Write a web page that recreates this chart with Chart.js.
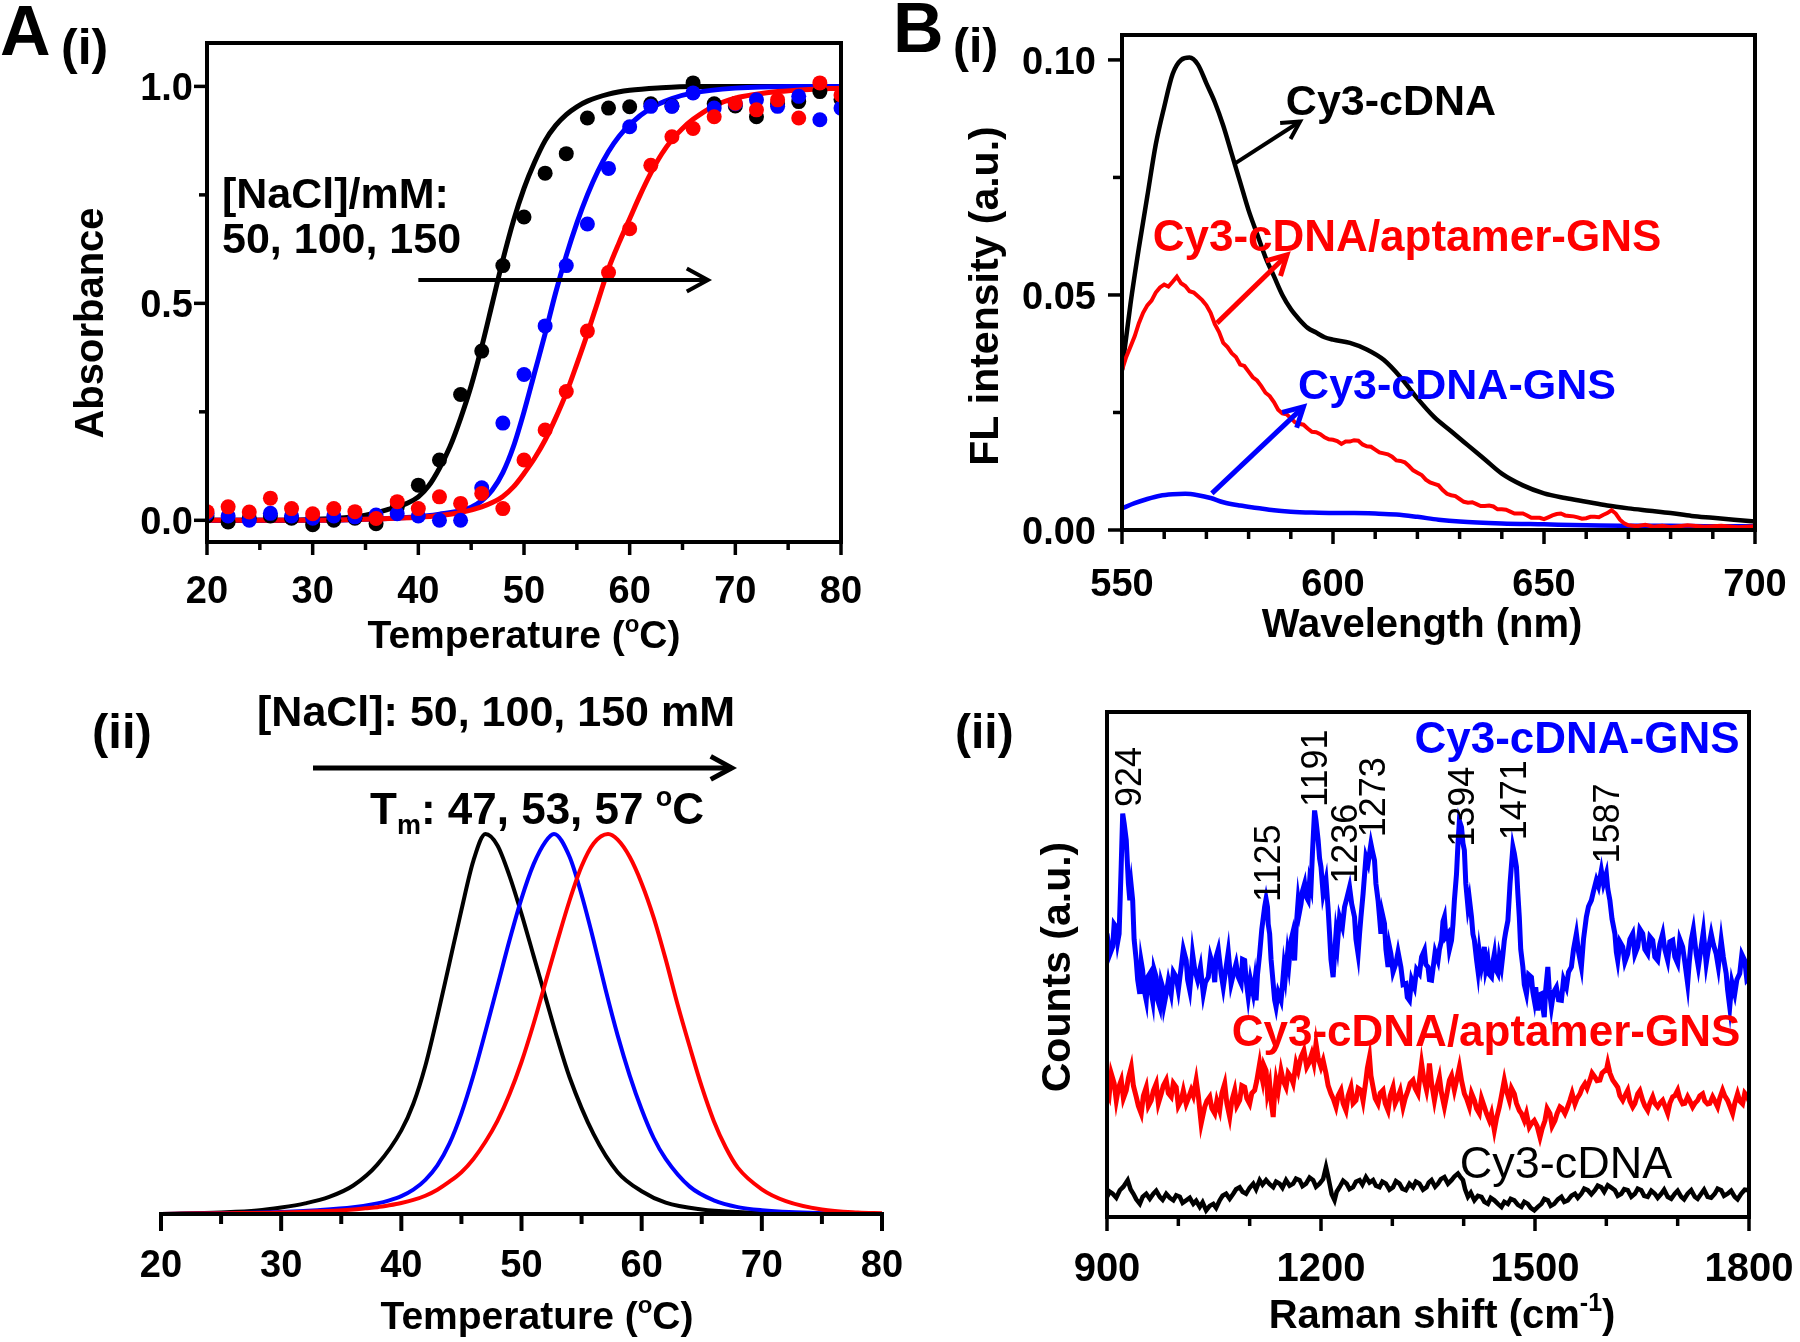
<!DOCTYPE html>
<html>
<head>
<meta charset="utf-8">
<script src="https://cdn.jsdelivr.net/npm/chart.js@4.4.1/dist/chart.umd.min.js"></script>
<style>
  body { margin: 0; background: #fff; }
  #page { position: relative; width: 1800px; height: 1342px; overflow: hidden; background: #fff; }
  canvas { position: absolute; }
</style>
</head>
<body>
<div id="page">
  <canvas id="meltCurve" width="900" height="670" style="left:0;top:0"></canvas>
  <canvas id="meltDeriv" width="940" height="672" style="left:0;top:670px"></canvas>
  <canvas id="flSpectra" width="930" height="670" style="left:870px;top:0"></canvas>
  <canvas id="ramanSpectra" width="930" height="672" style="left:870px;top:670px"></canvas>
</div>
<script>
// ---- A(i) melting curves: absorbance vs temperature ----
const meltTemps = [20,22,24,26,28,30,32,34,36,38,40,42,44,46,48,50,52,54,56,58,60,62,64,66,68,70,72,74,76,78,80];
const melt50 = [0.01,-0.004,0.005,0.01,0.005,-0.01,0.0,0.005,-0.008,0.03,0.081,0.139,0.29,0.39,0.587,0.699,0.80,0.845,0.927,0.95,0.953,0.96,0.955,1.008,0.96,0.955,0.93,0.96,0.965,0.988,0.97];
const melt100 = [0.016,0.01,0.0,0.016,0.01,0.005,0.01,0.008,0.012,0.015,0.01,0.0,0.0,0.075,0.224,0.336,0.448,0.587,0.683,0.811,0.907,0.954,0.954,0.985,0.95,0.96,0.969,0.954,0.977,0.923,0.95];
const melt150 = [0.02,0.031,0.019,0.051,0.027,0.015,0.027,0.02,0.004,0.043,0.027,0.054,0.039,0.062,0.027,0.139,0.208,0.297,0.436,0.571,0.672,0.818,0.884,0.903,0.93,0.961,0.946,0.969,0.927,1.008,0.98];

const fitT50 = [20,25,30,33,35,37,39,40,41,42,43,44,45,46,47,48,49,50,51,52,53,54,55,56,58,60,63,66,70,80];
const fit50 = [0,0,0.002,0.006,0.012,0.024,0.04,0.054,0.08,0.12,0.17,0.235,0.31,0.4,0.5,0.6,0.69,0.765,0.825,0.875,0.91,0.935,0.953,0.966,0.982,0.991,0.997,1.0,1.0,1.0];
const fitT100 = [20,30,36,40,42,44,45,46,47,48,49,50,51,52,53,54,55,56,57,58,59,60,62,64,66,70,75,80];
const fit100 = [0,0,0.003,0.008,0.014,0.022,0.03,0.045,0.07,0.11,0.17,0.25,0.34,0.43,0.525,0.61,0.685,0.75,0.805,0.85,0.885,0.912,0.95,0.972,0.985,0.996,1.0,1.0];
const fitT150 = [20,30,36,40,42,44,46,47,48,49,50,51,52,53,54,55,56,57,58,59,60,61,62,63,64,65,66,68,70,72,74,77,80];
const fit150 = [0,0,0.003,0.007,0.011,0.018,0.031,0.041,0.055,0.077,0.108,0.143,0.185,0.236,0.293,0.36,0.43,0.505,0.58,0.64,0.695,0.75,0.8,0.843,0.877,0.903,0.924,0.955,0.973,0.982,0.988,0.993,0.996];

// ---- A(ii) first derivative peaks ----
const dT50 = [20,25,28,30,32,34,36,38,40,41,42,43,44,45,46,47,48,49,50,51,52,53,54,56,58,60,62,65,68,72,76,80];
const deriv50 = [0,0.004,0.009,0.017,0.028,0.045,0.075,0.13,0.22,0.29,0.39,0.52,0.66,0.8,0.93,1.0,0.97,0.89,0.79,0.68,0.57,0.46,0.36,0.21,0.11,0.06,0.03,0.012,0.005,0.001,0,0];
const dT100 = [20,25,30,33,36,38,39,40,41,42,43,44,45,46,47,48,49,50,51,52,52.7,54,55,56,57,58,59,60,61,62,64,66,68,70,74,78,80];
const deriv100 = [0,0.002,0.005,0.01,0.018,0.028,0.036,0.047,0.064,0.09,0.128,0.185,0.265,0.365,0.48,0.6,0.72,0.83,0.92,0.98,1.0,0.94,0.84,0.72,0.59,0.47,0.365,0.275,0.2,0.145,0.072,0.036,0.018,0.01,0.003,0.001,0];
const dT150 = [20,25,30,33,36,37,38,39,40,41,42,43,44,45,46,47,48,49,50,51,52,53,54,55,56,57.2,58,59,60,61,62,63,64,65,66,67,68,70,72,75,78,80];
const deriv150 = [0,0.002,0.004,0.007,0.012,0.015,0.018,0.023,0.029,0.037,0.048,0.064,0.085,0.11,0.145,0.19,0.245,0.315,0.4,0.5,0.61,0.72,0.825,0.915,0.975,1.0,0.985,0.94,0.87,0.78,0.67,0.55,0.44,0.335,0.245,0.175,0.122,0.065,0.034,0.012,0.004,0.002];

// ---- B(i) fluorescence spectra ----
const flBlackX = [550,552,554,556,558,560,562,564,566,568,570,572,574,576,578,580,582,584,586,588,590,592,594,596,598,600,604,608,612,616,620,624,628,632,636,640,645,650,655,660,665,670,675,680,685,690,695,700];
const flBlackY = [0.034,0.048,0.060,0.071,0.082,0.090,0.097,0.1,0.1005,0.099,0.095,0.091,0.086,0.080,0.074,0.068,0.063,0.058,0.054,0.050,0.047,0.0448,0.043,0.042,0.041,0.0405,0.0398,0.0384,0.0362,0.0325,0.028,0.024,0.021,0.018,0.015,0.012,0.0095,0.0078,0.0068,0.006,0.0052,0.0046,0.0041,0.0036,0.003,0.0026,0.0022,0.0018];
// [wavelength, intensity]
const flRed = [[550,.034],[551,.0368],[552,.039],[553,.0412],[554,.044],[555,.0462],[556,.0478],[557,.0488],[558,.0505],[559,.0516],
  [560,.0522],[561,.0518],[562,.0528],[563,.0539],[564,.0525],[565,.0519],[566,.0508],[567,.0505],[568,.0497],[569,.0489],
  [570,.0478],[571,.0462],[572,.0438],[573,.0421],[574,.0398],[575,.0389],[576,.0376],[577,.0368],[578,.0352],[579,.0349],
  [580,.0337],[581,.0325],[582,.0318],[583,.0306],[584,.0292],[585,.0285],[586,.0272],[587,.0256],[588,.0248],[589,.0246],
  [590,.0238],[591,.0229],[592,.0226],[593,.0224],[594,.0216],[595,.0209],[596,.0208],[597,.0204],[598,.0197],[599,.0193],
  [600,.0192],[601,.0189],[602,.0183],[603,.0188],[604,.0188],[605,.0191],[606,.019],[607,.0182],[608,.0178],[609,.0177],
  [610,.0171],[611,.0165],[612,.0163],[613,.0161],[614,.0156],[615,.0148],[616,.0147],[617,.0144],[618,.0136],[619,.0127],
  [620,.0122],[621,.0117],[622,.0107],[623,.0101],[624,.0098],[625,.0095],[626,.0085],[627,.0077],[628,.0074],[629,.0072],
  [630,.0066],[631,.006],[632,.0058],[633,.0059],[634,.0055],[635,.0051],[636,.0051],[637,.0052],[638,.005],[639,.0044],
  [640,.0044],[641,.0043],[642,.0039],[643,.0035],[644,.0035],[645,.0035],[646,.0031],[647,.0026],[648,.0026],[649,.0026],
  [650,.0023],[651,.0027],[652,.0031],[653,.0034],[654,.0035],[655,.0031],[656,.003],[657,.0029],[658,.0027],[659,.0024],
  [660,.0025],[661,.0028],[662,.0028],[663,.0027],[664,.0032],[665,.0036],[666,.0042],[667,.0035],[668,.0022],[669,.0014],
  [670,.001],[672,.0008],[674,.0011],[676,.0007],[678,.0009],[680,.0006],[684,.001],[688,.0007],[692,.0009],[696,.0006],[700,.0008]];
const flBlueX = [550,553,556,559,562,565,568,571,574,578,582,586,590,595,600,605,610,615,620,625,630,640,650,660,670,680,690,700];
const flBlueY = [0.0046,0.0057,0.0066,0.0073,0.0076,0.0077,0.0074,0.0068,0.0059,0.0052,0.0047,0.0042,0.0039,0.0037,0.0036,0.0036,0.0035,0.0033,0.0028,0.0022,0.0018,0.0014,0.0012,0.001,0.0009,0.0009,0.0008,0.0008];

// ---- B(ii) Raman spectra, [shift, counts in arbitrary units] ----
const ramanBlue = [[900,56.1],[904,52.0],[908,53.5],[910,58.0],[913,57.4],[915,54.5],[917,56.1],[920,70.0],[922,79.9],[924,78.0],
  [927,74.6],[930,66.0],[932,62.7],[934,65.5],[936,62.7],[938,55.0],[941,50.8],[943,47.0],[946,44.2],[948,50.5],
  [950,48.8],[952,45.0],[955,42.9],[957,47.5],[960,48.2],[962,44.5],[964,42.9],[966,49.0],[969,47.5],[971,43.0],
  [974,41.6],[976,46.5],[978,45.5],[980,42.0],[983,44.2],[986,46.8],[990,44.2],[993,48.5],[997,47.5],[1000,45.0],
  [1004,49.5],[1007,53.0],[1011,50.8],[1013,47.0],[1016,44.9],[1018,48.0],[1020,52.1],[1023,49.0],[1027,46.9],[1031,49.5],
  [1035,44.2],[1038,46.5],[1042,47.5],[1045,51.5],[1049,49.5],[1051,46.5],[1053,51.5],[1056,53.0],[1060,48.2],[1063,45.5],
  [1067,49.5],[1070,52.5],[1074,46.2],[1077,48.0],[1081,50.2],[1084,47.5],[1088,46.2],[1090,51.0],[1093,50.8],[1095,47.0],
  [1098,43.6],[1101,47.0],[1105,44.2],[1107,46.5],[1109,42.9],[1111,48.0],[1114,52.1],[1117,57.0],[1121,61.4],[1123,63.0],
  [1125,61.4],[1126,58.0],[1128,56.1],[1130,51.0],[1133,46.2],[1135,43.0],[1137,41.6],[1140,44.5],[1144,42.9],[1146,46.0],
  [1148,49.5],[1150,47.5],[1153,52.1],[1155,50.0],[1158,54.8],[1160,56.0],[1163,50.8],[1165,57.0],[1168,62.7],[1170,60.5],
  [1172,62.0],[1174,64.5],[1177,66.0],[1179,63.5],[1182,62.7],[1184,66.5],[1186,65.3],[1188,72.0],[1191,80.5],[1193,78.5],
  [1196,74.6],[1198,71.0],[1200,69.3],[1203,64.0],[1207,66.7],[1210,61.0],[1212,56.1],[1214,51.0],[1217,47.5],[1219,52.0],
  [1221,56.1],[1223,54.0],[1226,59.4],[1230,57.5],[1233,61.4],[1236,63.0],[1240,65.3],[1243,62.0],[1247,59.4],[1249,55.0],
  [1252,52.1],[1254,56.0],[1256,59.4],[1259,64.0],[1263,71.3],[1266,70.0],[1270,73.9],[1272,72.5],[1275,70.6],[1277,66.0],
  [1280,62.7],[1282,59.5],[1284,56.1],[1286,60.0],[1289,58.1],[1291,53.0],[1294,49.5],[1296,53.5],[1298,52.1],[1301,48.5],
  [1305,50.2],[1308,52.5],[1312,49.5],[1315,46.0],[1319,46.2],[1321,43.5],[1324,42.9],[1327,47.0],[1331,45.5],[1334,49.0],
  [1338,48.2],[1341,51.5],[1345,52.8],[1347,50.0],[1350,49.5],[1352,47.0],[1355,46.9],[1360,52.5],[1364,50.8],[1366,53.0],
  [1369,54.8],[1371,58.5],[1373,59.4],[1375,55.5],[1378,56.1],[1380,53.0],[1383,54.8],[1385,58.0],[1387,62.7],[1390,68.0],
  [1392,73.9],[1394,78.5],[1397,77.2],[1399,74.0],[1401,72.6],[1403,66.0],[1406,61.4],[1408,63.0],[1411,59.4],[1413,56.0],
  [1415,54.8],[1418,51.0],[1420,48.8],[1422,52.5],[1425,49.5],[1427,51.0],[1429,53.5],[1431,49.0],[1434,50.8],[1436,48.0],
  [1439,47.5],[1441,50.5],[1443,52.1],[1445,49.0],[1448,48.2],[1450,51.5],[1453,49.5],[1455,52.0],[1457,54.8],[1459,56.5],
  [1462,58.7],[1465,66.0],[1469,73.3],[1471,72.0],[1474,69.3],[1476,64.0],[1478,59.4],[1480,53.0],[1483,49.5],[1485,46.0],
  [1488,44.2],[1491,48.0],[1495,47.5],[1497,44.5],[1499,42.9],[1501,45.5],[1504,40.9],[1506,44.0],[1509,44.2],[1511,41.5],
  [1513,39.6],[1515,45.0],[1518,49.5],[1520,45.0],[1523,41.6],[1526,44.5],[1530,45.5],[1533,43.0],[1537,42.9],[1540,47.0],
  [1544,45.5],[1547,48.5],[1551,49.5],[1554,53.0],[1558,56.1],[1561,52.5],[1565,49.5],[1568,55.0],[1572,59.4],[1575,61.5],
  [1579,62.7],[1582,64.5],[1586,66.7],[1589,65.5],[1593,68.6],[1596,66.0],[1600,68.0],[1602,65.0],[1605,62.7],[1608,59.0],
  [1612,56.1],[1614,52.5],[1616,50.8],[1619,54.5],[1623,53.5],[1626,50.5],[1630,52.1],[1633,55.0],[1637,56.1],[1640,52.0],
  [1644,53.5],[1647,57.0],[1651,56.1],[1654,53.0],[1658,52.1],[1661,55.5],[1665,54.8],[1668,51.5],[1672,50.8],[1675,54.0],
  [1679,56.1],[1682,53.0],[1686,50.8],[1689,54.5],[1693,54.8],[1696,51.5],[1700,50.2],[1703,55.0],[1707,53.5],[1710,50.5],
  [1714,46.2],[1716,50.0],[1719,54.8],[1722,57.0],[1726,52.1],[1729,49.5],[1733,53.5],[1736,56.5],[1740,50.2],[1743,53.0],
  [1747,56.1],[1750,54.0],[1754,52.1],[1757,49.5],[1761,54.8],[1764,51.5],[1768,48.2],[1770,45.0],[1773,41.6],[1776,46.5],
  [1780,44.2],[1783,47.0],[1787,48.2],[1790,52.0],[1794,50.8],[1797,47.0],[1800,47.5]];
const ramanRed = [[900,25.1],[903,24.0],[906,28.4],[910,26.5],[913,23.1],[916,25.5],[920,27.1],[923,23.5],[927,25.1],[930,27.5],
  [934,29.7],[937,26.0],[941,23.8],[944,22.0],[948,20.5],[951,24.0],[955,25.7],[958,22.0],[962,23.1],[965,25.0],
  [969,26.4],[972,22.5],[976,24.4],[979,26.0],[983,27.1],[986,24.5],[990,23.8],[993,26.5],[997,25.7],[1000,22.0],
  [1004,23.1],[1007,25.0],[1011,22.4],[1014,23.5],[1018,25.1],[1021,24.0],[1025,27.1],[1028,24.0],[1032,18.5],[1035,20.5],
  [1037,21.8],[1040,23.0],[1044,23.8],[1047,21.5],[1051,20.5],[1054,23.0],[1058,21.1],[1061,24.5],[1065,26.4],[1068,22.5],
  [1072,19.8],[1075,23.0],[1079,25.1],[1082,22.0],[1086,23.1],[1089,26.0],[1093,25.7],[1096,23.5],[1100,22.4],[1103,24.5],
  [1107,25.1],[1110,27.0],[1114,30.4],[1116,28.5],[1118,27.1],[1120,30.0],[1123,29.0],[1125,24.5],[1128,26.4],[1130,23.0],
  [1133,19.8],[1135,24.5],[1137,27.1],[1140,25.0],[1144,29.0],[1147,27.0],[1151,25.7],[1154,28.5],[1158,27.7],[1161,26.5],
  [1165,30.4],[1168,29.0],[1172,31.7],[1176,33.0],[1180,29.7],[1183,30.5],[1187,32.3],[1190,30.5],[1193,34.3],[1196,31.5],
  [1200,29.7],[1203,31.0],[1207,28.4],[1210,26.0],[1214,24.4],[1217,23.5],[1221,21.8],[1224,24.0],[1228,25.1],[1231,22.5],
  [1235,21.1],[1238,24.0],[1242,25.7],[1245,22.5],[1249,23.1],[1252,25.5],[1256,25.1],[1259,23.0],[1263,27.1],[1265,29.5],
  [1268,31.7],[1270,28.0],[1273,25.7],[1276,23.5],[1280,22.4],[1283,24.5],[1287,25.1],[1290,22.5],[1294,21.1],[1297,24.0],
  [1301,25.7],[1304,22.5],[1308,23.8],[1311,25.0],[1315,21.8],[1318,23.5],[1322,25.1],[1325,26.5],[1329,27.1],[1332,25.5],
  [1336,24.4],[1338,27.0],[1341,30.4],[1344,27.5],[1348,25.1],[1350,27.0],[1352,30.4],[1355,26.5],[1359,23.1],[1362,25.5],
  [1366,27.7],[1369,24.5],[1373,21.8],[1376,24.0],[1380,27.1],[1383,28.0],[1387,25.1],[1390,27.0],[1394,29.7],[1397,27.0],
  [1401,24.4],[1404,23.5],[1408,21.8],[1411,24.5],[1415,23.1],[1418,21.5],[1422,20.5],[1425,23.5],[1429,21.8],[1432,20.5],
  [1436,19.1],[1439,20.5],[1443,17.2],[1446,19.5],[1450,21.8],[1453,24.0],[1457,27.1],[1460,25.0],[1464,23.1],[1467,25.5],
  [1471,24.4],[1474,22.5],[1478,21.1],[1481,20.5],[1485,19.1],[1488,20.5],[1492,17.8],[1495,18.5],[1499,19.1],[1503,18.0],
  [1507,15.8],[1510,17.5],[1514,19.1],[1517,21.5],[1521,20.5],[1524,18.0],[1528,19.1],[1531,20.5],[1535,21.8],[1538,21.5],
  [1542,20.5],[1545,21.5],[1549,23.1],[1552,24.5],[1556,22.4],[1559,23.5],[1563,24.4],[1566,25.5],[1570,26.4],[1573,25.5],
  [1577,27.1],[1580,28.5],[1584,27.7],[1587,27.0],[1591,27.1],[1594,28.5],[1598,29.0],[1600,29.0],[1602,30.4],[1605,28.5],
  [1609,27.1],[1612,26.5],[1616,25.7],[1619,24.0],[1623,23.1],[1626,24.0],[1630,25.1],[1633,23.0],[1637,21.8],[1640,22.5],
  [1644,24.4],[1647,25.0],[1651,23.1],[1654,22.0],[1658,21.1],[1661,22.5],[1665,23.8],[1668,22.5],[1672,21.8],[1675,22.5],
  [1679,23.1],[1682,22.0],[1686,20.5],[1689,22.5],[1693,23.8],[1696,24.0],[1700,25.1],[1703,23.5],[1707,22.4],[1710,22.5],
  [1714,23.8],[1717,23.0],[1721,21.8],[1724,22.5],[1728,23.1],[1731,24.0],[1735,24.4],[1738,23.0],[1742,22.4],[1745,22.5],
  [1749,23.8],[1752,23.0],[1756,21.8],[1759,23.5],[1763,25.1],[1766,24.0],[1770,23.1],[1773,22.0],[1777,20.5],[1780,22.5],
  [1784,24.4],[1787,23.0],[1791,22.4],[1794,24.5],[1798,23.8],[1800,23.0]];
const ramanBlack = [[900,4.0],[904,5.0],[908,4.6],[913,3.8],[918,5.3],[923,6.0],[929,7.3],[933,5.5],[937,4.6],[941,3.5],
  [946,2.6],[950,4.0],[955,4.6],[960,3.6],[965,4.6],[969,5.2],[974,4.0],[978,3.4],[983,4.6],[988,3.8],
  [993,3.3],[997,4.3],[1002,4.0],[1006,2.8],[1011,3.3],[1016,3.8],[1021,2.6],[1025,3.2],[1030,2.0],[1034,2.9],
  [1039,1.3],[1044,2.2],[1049,2.6],[1053,1.8],[1058,3.3],[1062,4.2],[1067,4.6],[1072,3.6],[1077,4.6],[1081,5.5],
  [1086,5.9],[1090,5.0],[1095,4.6],[1100,5.8],[1105,6.6],[1109,5.5],[1114,7.3],[1118,6.4],[1123,7.3],[1128,6.5],
  [1133,5.9],[1137,7.0],[1142,6.6],[1146,5.8],[1151,7.3],[1156,6.2],[1161,6.6],[1165,7.6],[1170,7.3],[1174,6.1],
  [1179,6.6],[1184,7.8],[1189,7.3],[1193,6.0],[1198,6.6],[1203,7.5],[1207,9.9],[1210,8.0],[1212,6.6],[1215,4.5],
  [1219,3.3],[1222,5.0],[1226,5.9],[1231,7.2],[1236,6.6],[1240,5.5],[1245,5.9],[1249,7.0],[1254,7.3],[1258,6.4],
  [1263,7.9],[1268,6.8],[1273,7.3],[1277,6.2],[1282,5.9],[1286,7.0],[1291,6.6],[1296,5.4],[1301,5.9],[1305,7.1],
  [1310,6.6],[1314,5.6],[1319,5.3],[1324,6.6],[1329,5.9],[1333,7.0],[1338,6.6],[1343,5.4],[1348,5.9],[1351,6.8],
  [1355,7.3],[1360,6.0],[1364,6.6],[1368,7.5],[1373,7.9],[1378,6.6],[1383,7.3],[1387,8.0],[1392,8.6],[1395,8.0],
  [1399,7.3],[1402,5.5],[1406,4.0],[1410,4.8],[1415,3.3],[1420,4.2],[1425,4.0],[1429,3.0],[1434,2.6],[1438,3.8],
  [1443,3.3],[1448,2.6],[1453,2.0],[1457,3.0],[1462,2.6],[1466,3.6],[1471,3.3],[1476,2.4],[1481,2.0],[1485,3.0],
  [1490,2.6],[1494,1.8],[1499,1.3],[1504,2.0],[1509,2.6],[1513,3.6],[1518,3.3],[1522,2.2],[1527,2.6],[1532,3.5],
  [1537,4.0],[1541,3.0],[1546,3.3],[1551,4.2],[1556,4.6],[1560,3.8],[1565,4.6],[1569,5.6],[1574,5.3],[1579,4.5],
  [1584,5.3],[1588,6.2],[1593,5.9],[1597,5.0],[1602,6.3],[1607,5.8],[1612,5.3],[1616,4.2],[1621,4.6],[1625,5.5],
  [1630,5.3],[1635,4.0],[1640,4.6],[1644,5.6],[1649,5.3],[1653,4.2],[1658,4.0],[1663,5.2],[1668,4.6],[1672,3.8],
  [1677,4.6],[1681,5.4],[1686,4.0],[1691,3.6],[1696,4.6],[1700,5.2],[1705,4.0],[1709,3.5],[1714,4.6],[1719,5.3],
  [1724,4.0],[1728,3.6],[1733,4.6],[1737,5.4],[1742,4.0],[1747,3.8],[1752,4.6],[1756,5.6],[1761,5.3],[1765,4.2],
  [1770,4.6],[1775,5.2],[1780,4.0],[1784,3.5],[1789,4.6],[1794,5.4],[1800,5.3]];
const ramanPeaks = [924, 1125, 1191, 1236, 1273, 1394, 1471, 1587];

// ---- tick values ----
const tempTicks = [20, 30, 40, 50, 60, 70, 80];
const tempMinor = [25, 35, 45, 55, 65, 75];
const absTicks = [0, 0.5, 1.0];
const absTickLabels = ['0.0', '0.5', '1.0'];
const absMinor = [0.25, 0.75];
const wlTicks = [550, 600, 650, 700];
const wlMinor = [560, 570, 580, 590, 610, 620, 630, 640, 660, 670, 680, 690];
const flTicks = [0, 0.05, 0.10];
const flTickLabels = ['0.00', '0.05', '0.10'];
const flMinor = [0.025, 0.075];
const ramanTicks = [900, 1200, 1500, 1800];
const ramanMinor = [1000, 1100, 1300, 1400, 1600, 1700];

const BLACK = '#000000', BLUE = '#0000ff', RED = '#ff0000';
const FONT = '"Liberation Sans", Arial, Helvetica, sans-serif';

const pts = (xs, ys) => xs.map((x, i) => ({ x, y: ys[i] }));
const pairPts = arr => arr.map(p => ({ x: p[0], y: p[1] }));

// text with optional super/subscript parts
function drawText(ctx, t) {
  const parts = typeof t.text === 'string' ? [{ t: t.text }] : t.text;
  const weight = t.bold === false ? '' : 'bold ';
  const fontFor = p => weight + ((p.sup || p.sub) ? Math.round(t.size * 0.62) : t.size) + 'px ' + FONT;
  ctx.save();
  ctx.translate(t.x, t.y);
  if (t.rot) ctx.rotate(t.rot);
  ctx.scale(1, t.sy || 1);
  let total = 0;
  const widths = parts.map(p => { ctx.font = fontFor(p); const w = ctx.measureText(p.t).width; total += w; return w; });
  let x = t.align === 'left' ? 0 : t.align === 'right' ? -total : -total / 2;
  ctx.fillStyle = t.color || BLACK;
  ctx.textAlign = 'left';
  ctx.textBaseline = 'alphabetic';
  parts.forEach((p, i) => {
    ctx.font = fontFor(p);
    const dy = p.sup ? -t.size * 0.42 : p.sub ? t.size * 0.22 : 0;
    ctx.fillText(p.t, x, dy);
    x += widths[i];
  });
  ctx.restore();
}

// frame, ticks, tick labels, titles, arrows and notes
const decorPlugin = {
  id: 'decor',
  afterDraw(chart, args, o) {
    const ctx = chart.ctx, ca = chart.chartArea;
    const xs = chart.scales.x, ys = chart.scales.y;
    ctx.save();
    ctx.strokeStyle = BLACK;
    ctx.lineCap = 'square';
    ctx.lineWidth = o.frameW;
    if (o.box) {
      ctx.strokeRect(ca.left, ca.top, ca.right - ca.left, ca.bottom - ca.top);
    } else {
      ctx.beginPath(); ctx.moveTo(ca.left, ca.bottom); ctx.lineTo(ca.right, ca.bottom); ctx.stroke();
    }
    ctx.lineCap = 'butt';
    ctx.lineWidth = o.tickW;
    const xTick = (v, len) => { const p = xs.getPixelForValue(v); ctx.beginPath(); ctx.moveTo(p, ca.bottom); ctx.lineTo(p, ca.bottom + len); ctx.stroke(); };
    const yTick = (v, len) => { const p = ys.getPixelForValue(v); ctx.beginPath(); ctx.moveTo(ca.left, p); ctx.lineTo(ca.left - len, p); ctx.stroke(); };
    o.xMajor.forEach(v => xTick(v, o.tickLen[0]));
    o.xMinor.forEach(v => xTick(v, o.tickLen[1]));
    if (o.yMajor) {
      o.yMajor.forEach(v => yTick(v, o.tickLen[0]));
      o.yMinor.forEach(v => yTick(v, o.tickLen[1]));
    }
    ctx.restore();

    const sy = o.sy || 1;
    o.xMajor.forEach((v, i) => drawText(ctx, { text: o.xLabels[i], x: xs.getPixelForValue(v), y: o.xLabelBase, size: o.tickFont, sy }));
    if (o.yMajor) {
      o.yMajor.forEach((v, i) => drawText(ctx, { text: o.yLabels[i], x: o.yLabelRight, y: ys.getPixelForValue(v) + 0.358 * o.tickFont * sy, size: o.tickFont, align: 'right', sy }));
    }

    (o.arrows || []).forEach(a => {
      const x1 = xs.getPixelForValue(a.from[0]), y1 = ys.getPixelForValue(a.from[1]);
      const x2 = xs.getPixelForValue(a.to[0]), y2 = ys.getPixelForValue(a.to[1]);
      const ang = Math.atan2(y2 - y1, x2 - x1), h = a.head, s = 0.5;
      ctx.save();
      ctx.strokeStyle = a.color; ctx.lineWidth = a.w; ctx.lineCap = 'butt'; ctx.lineJoin = 'miter';
      ctx.beginPath(); ctx.moveTo(x1, y1); ctx.lineTo(x2, y2); ctx.stroke();
      ctx.beginPath();
      ctx.moveTo(x2 - h * Math.cos(ang - s), y2 - h * Math.sin(ang - s));
      ctx.lineTo(x2, y2);
      ctx.lineTo(x2 - h * Math.cos(ang + s), y2 - h * Math.sin(ang + s));
      ctx.stroke();
      ctx.restore();
    });

    (o.tags || []).forEach(t => drawText(ctx, {
      text: t.text, x: xs.getPixelForValue(t.at[0]) + 0.358 * t.size, y: ys.getPixelForValue(t.at[1]),
      size: t.size, bold: false, rot: -Math.PI / 2, align: 'left', sy
    }));

    (o.texts || []).forEach(t => drawText(ctx, Object.assign({ sy }, t)));
  }
};

function lineSet(data, color, width, smooth, order) {
  return {
    data, showLine: true, borderColor: color, borderWidth: width,
    pointRadius: 0, fill: false, order,
    tension: smooth ? 0.4 : 0, cubicInterpolationMode: smooth ? 'monotone' : 'default'
  };
}
function dotSet(xs, ys, color, order) {
  return { data: pts(xs, ys), showLine: false, pointRadius: 7.5, backgroundColor: color, borderWidth: 0, clip: 0, order };
}

function makeChart(id, cfg) {
  return new Chart(document.getElementById(id), {
    type: 'scatter',
    data: { datasets: cfg.datasets },
    options: {
      responsive: false,
      animation: false,
      events: [],
      layout: { padding: cfg.pad, autoPadding: false },
      scales: {
        x: { type: 'linear', min: cfg.x[0], max: cfg.x[1], display: false },
        y: { type: 'linear', min: cfg.y[0], max: cfg.y[1], display: false }
      },
      plugins: { legend: { display: false }, tooltip: { enabled: false }, decor: cfg.decor }
    },
    plugins: [decorPlugin]
  });
}

const tempTitle = [{ t: 'Temperature (' }, { t: 'o', sup: true }, { t: 'C)' }];

// A(i)
makeChart('meltCurve', {
  x: [20, 80], y: [-0.05, 1.10],
  pad: { left: 207, right: 59, top: 43, bottom: 128 },
  datasets: [
    dotSet(meltTemps, melt150, RED, 1),
    dotSet(meltTemps, melt100, BLUE, 2),
    dotSet(meltTemps, melt50, BLACK, 3),
    lineSet(pts(fitT150, fit150), RED, 5, true, 4),
    lineSet(pts(fitT100, fit100), BLUE, 5, true, 5),
    lineSet(pts(fitT50, fit50), BLACK, 5, true, 6)
  ],
  decor: {
    box: true, frameW: 4, tickW: 3.5, tickLen: [13, 8],
    xMajor: tempTicks, xMinor: tempMinor, xLabels: tempTicks.map(String),
    yMajor: absTicks, yMinor: absMinor, yLabels: absTickLabels,
    tickFont: 38, xLabelBase: 603, yLabelRight: 193,
    arrows: [{ from: [40, 0.5536], to: [67.4, 0.5536], color: BLACK, w: 4, head: 24 }],
    texts: [
      { text: 'A', x: 0, y: 55, size: 70, align: 'left' },
      { text: '(i)', x: 61, y: 64, size: 50, align: 'left' },
      { text: 'Absorbance', x: 103, y: 323, size: 40, rot: -Math.PI / 2 },
      { text: tempTitle, x: 524, y: 648, size: 39 },
      { text: '[NaCl]/mM:', x: 222, y: 208, size: 43, align: 'left' },
      { text: '50, 100, 150', x: 222, y: 253, size: 43, align: 'left' }
    ]
  }
});

// A(ii)
makeChart('meltDeriv', {
  x: [20, 80], y: [0, 1.3],
  pad: { left: 161, right: 58, top: 50, bottom: 128 },
  datasets: [
    lineSet(pts(dT150, deriv150), RED, 4, true, 1),
    lineSet(pts(dT100, deriv100), BLUE, 4, true, 2),
    lineSet(pts(dT50, deriv50), BLACK, 4, true, 3)
  ],
  decor: {
    box: false, frameW: 4, tickW: 4, tickLen: [17, 10],
    xMajor: tempTicks, xMinor: tempMinor, xLabels: tempTicks.map(String),
    tickFont: 38, xLabelBase: 607,
    arrows: [{ from: [32.65, 1.174], to: [67.5, 1.174], color: BLACK, w: 5, head: 24 }],
    texts: [
      { text: '(ii)', x: 92, y: 78, size: 49, align: 'left' },
      { text: '[NaCl]: 50, 100, 150 mM', x: 496, y: 56, size: 43 },
      { text: [{ t: 'T' }, { t: 'm', sub: true }, { t: ': 47, 53, 57 ' }, { t: 'o', sup: true }, { t: 'C' }], x: 537, y: 154, size: 44 },
      { text: tempTitle, x: 537, y: 659, size: 39 }
    ]
  }
});

// B(i)
makeChart('flSpectra', {
  x: [550, 700], y: [0, 0.1053],
  pad: { left: 252, right: 45, top: 35, bottom: 140 },
  datasets: [
    lineSet(pairPts(flRed), RED, 4, false, 1),
    lineSet(pts(flBlueX, flBlueY), BLUE, 4.5, true, 2),
    lineSet(pts(flBlackX, flBlackY), BLACK, 4.5, true, 3)
  ],
  decor: {
    box: true, frameW: 4, tickW: 3.5, tickLen: [14, 9],
    xMajor: wlTicks, xMinor: wlMinor, xLabels: wlTicks.map(String),
    yMajor: flTicks, yMinor: flMinor, yLabels: flTickLabels,
    tickFont: 38, xLabelBase: 596, yLabelRight: 226,
    arrows: [
      { from: [576.8, 0.078], to: [592.2, 0.0869], color: BLACK, w: 4, head: 20 },
      { from: [572.5, 0.044], to: [589.1, 0.0585], color: RED, w: 5, head: 22 },
      { from: [571.3, 0.0078], to: [593.0, 0.0262], color: BLUE, w: 5, head: 22 }
    ],
    texts: [
      { text: 'B', x: 23, y: 52, size: 70, align: 'left' },
      { text: '(i)', x: 83, y: 62, size: 48, align: 'left' },
      { text: 'FL intensity (a.u.)', x: 128, y: 296, size: 41, rot: -Math.PI / 2 },
      { text: 'Wavelength (nm)', x: 552, y: 637, size: 40 },
      { text: 'Cy3-cDNA', x: 521, y: 115, size: 43 },
      { text: 'Cy3-cDNA/aptamer-GNS', x: 537, y: 251, size: 44, color: RED },
      { text: 'Cy3-cDNA-GNS', x: 587, y: 399, size: 43, color: BLUE }
    ]
  }
});

// B(ii)
makeChart('ramanSpectra', {
  x: [900, 1800], y: [0, 100],
  pad: { left: 237, right: 51, top: 42, bottom: 125 },
  datasets: [
    lineSet(pairPts(ramanBlue), BLUE, 5, false, 1),
    lineSet(pairPts(ramanRed), RED, 5, false, 2),
    lineSet(pairPts(ramanBlack), BLACK, 4.5, false, 3)
  ],
  decor: {
    box: true, frameW: 4, tickW: 3.5, tickLen: [14, 9],
    xMajor: ramanTicks, xMinor: ramanMinor, xLabels: ramanTicks.map(String),
    tickFont: 40, xLabelBase: 611,
    tags: ramanPeaks.map((p, i) => ({
      text: String(p), size: 36,
      at: [[930, 81.2], [1125, 62.4], [1191, 81.2], [1233, 66.0], [1272, 75.2], [1396, 73.3], [1470, 74.6], [1600, 70.0]][i]
    })),
    texts: [
      { text: '(ii)', x: 85, y: 78, size: 48, align: 'left' },
      { text: 'Counts (a.u.)', x: 200, y: 297, size: 41, rot: -Math.PI / 2 },
      { text: [{ t: 'Raman shift (cm' }, { t: '-1', sup: true }, { t: ')' }], x: 572, y: 658, size: 40 },
      { text: 'Cy3-cDNA-GNS', x: 707, y: 83, size: 44, color: BLUE },
      { text: 'Cy3-cDNA/aptamer-GNS', x: 616, y: 376, size: 44, color: RED },
      { text: 'Cy3-cDNA', x: 696, y: 508, size: 45, bold: false }
    ]
  }
});
</script>
</body>
</html>
